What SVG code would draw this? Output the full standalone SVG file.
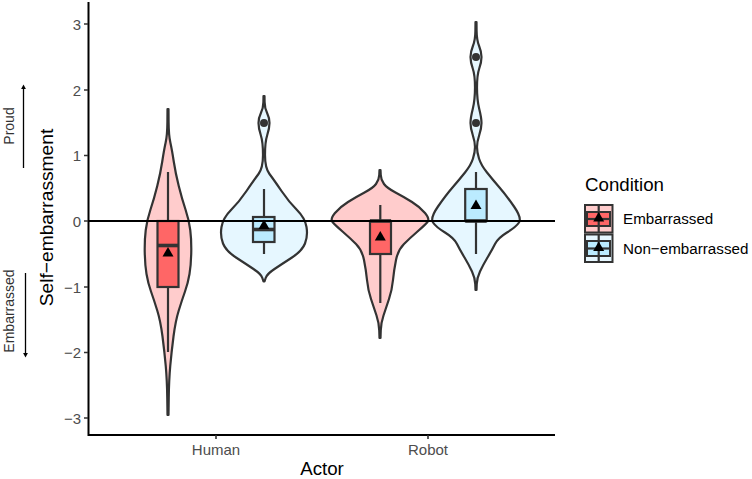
<svg xmlns="http://www.w3.org/2000/svg" xmlns:xlink="http://www.w3.org/1999/xlink" width="752" height="479" viewBox="0 0 752 479">
<style>
text{font-family:"Liberation Sans",Arial,sans-serif}
.tick{font-size:15px;fill:#4d4d4d}
.title{font-size:18.7px;fill:#000}
.leg{font-size:15.2px;fill:#000}
.ann{font-size:14px;fill:#333}
.axis{stroke:#000;stroke-width:2;fill:none}
.tk{stroke:#333;stroke-width:1.6}
.vr{fill:#ffcccc;stroke:#333;stroke-width:2.2;stroke-linejoin:round}
.vb{fill:#e6f7ff;stroke:#333;stroke-width:2.2;stroke-linejoin:round}
.br{fill:#ff6666;stroke:#333;stroke-width:2.2}
.bb{fill:#bbebff;stroke:#333;stroke-width:2.2}
.wh{stroke:#333;stroke-width:2.2;fill:none}
.med{stroke:#333;stroke-width:3.6;fill:none}
.pt{fill:#333}
.key{stroke:#333;stroke-width:2}
</style>
<defs>
<marker id="ah" markerWidth="6" markerHeight="6" refX="1" refY="3" orient="auto" markerUnits="userSpaceOnUse"><path d="M0,0.6L4.500,3L0,5.400Z" fill="#000"/></marker>
<path id="tri" d="M-5.500,4.500L0,-5L5.500,4.500Z" fill="#000"/>
<path id="h1" d="M0,109L.5,109L.6,122Q.7,135 2.35,142.5Q4,150 5.75,161.5Q7.5,173 10.75,186Q14,199 17.5,209.5Q21,220 22.25,230Q23.5,240 23.25,252.5Q23,265 21.5,274Q20,283 17,291.5Q14,300 10.75,310.5Q7.5,321 5.5,336.5Q3.5,352 2.25,366Q1,380 .75,397.5L.5,415L0,415"/>
<path id="h2" d="M0,96L.5,96L.6,102Q.7,108 3.1,113Q5.5,118 5.5,123Q5.5,128 3.25,135Q1,142 1,155Q1,168 5.5,174Q10,180 17.5,191Q25,202 33,210Q41,218 42.5,227Q44,236 41,243.5Q38,251 28,257.5Q18,264 10.5,269Q3,274 1.75,277.75L.5,281.5L0,281.5"/>
<path id="h3" d="M0,170L.5,170L.75,175Q1,180 4,184Q7,188 15.5,192.5Q24,197 32,202Q40,207 45,213Q50,219 47.5,222Q45,225 37.5,231.5Q30,238 24,244Q18,250 16,260Q14,270 13,280Q12,290 9,299Q6,308 3.5,315.5Q1,323 .75,330.5L.5,338L0,338"/>
<path id="h4" d="M0,22L.5,22L.6,31Q.7,40 3.1,46Q5.5,52 5.5,57Q5.5,62 3.25,68.5Q1,75 1,87.5Q1,100 3.25,109Q5.5,118 5.5,123Q5.5,128 3.25,135Q1,142 1,147Q1,152 3,158.5Q5,165 11,172.5Q17,180 23.5,187.5Q30,195 38,206.5Q46,218 43,222.5Q40,227 31,232.5Q22,238 19,244Q16,250 11.5,257.5Q7,265 4,271.5Q1,278 .75,284L.5,290L0,290"/>
</defs>
<rect width="752" height="479" fill="#fff"/>
<g id="violin-human-embarrassed">
<use xlink:href="#h1" href="#h1" class="vr" transform="translate(168,0)"/>
<use xlink:href="#h1" href="#h1" class="vr" transform="translate(168,0) scale(-1,1)"/>
<path class="wh" d="M168,172V352"/>
<rect class="br" x="157.500" y="221" width="21" height="66"/>
<path class="med" d="M157.500,245.500H178.500"/>
<use xlink:href="#tri" href="#tri" transform="translate(168,252)"/>
</g>
<g id="violin-human-non-embarrassed">
<use xlink:href="#h2" href="#h2" class="vb" transform="translate(264,0)"/>
<use xlink:href="#h2" href="#h2" class="vb" transform="translate(264,0) scale(-1,1)"/>
<path class="wh" d="M264,189V254"/>
<rect class="bb" x="253" y="217" width="21.500" height="25"/>
<path class="med" d="M253,229.500H274.500"/>
<circle class="pt" cx="264" cy="123" r="4"/>
<use xlink:href="#tri" href="#tri" transform="translate(264,224.500)"/>
</g>
<g id="violin-robot-embarrassed">
<use xlink:href="#h3" href="#h3" class="vr" transform="translate(380,0)"/>
<use xlink:href="#h3" href="#h3" class="vr" transform="translate(380,0) scale(-1,1)"/>
<path class="wh" d="M380.300,205V303"/>
<rect class="br" x="370" y="221" width="21" height="33"/>
<path class="med" d="M370,221H391"/>
<use xlink:href="#tri" href="#tri" transform="translate(380.300,236)"/>
</g>
<g id="violin-robot-non-embarrassed">
<use xlink:href="#h4" href="#h4" class="vb" transform="translate(476,0)"/>
<use xlink:href="#h4" href="#h4" class="vb" transform="translate(476,0) scale(-1,1)"/>
<path class="wh" d="M476,172V254"/>
<rect class="bb" x="465.200" y="189" width="21.500" height="32"/>
<path class="med" d="M465.200,221H486.700"/>
<circle class="pt" cx="476" cy="57" r="4"/>
<circle class="pt" cx="476" cy="123" r="4"/>
<use xlink:href="#tri" href="#tri" transform="translate(476,204.500)"/>
</g>
<g id="connectors">
<path class="axis" d="M88,221H555"/>
<path d="M23.500,168V88" stroke="#000" stroke-width="1.300" fill="none" marker-end="url(#ah)"/>
<path d="M25.500,273V354" stroke="#000" stroke-width="1.300" fill="none" marker-end="url(#ah)"/>
</g>
<g id="axes">
<path class="axis" d="M88.500,2V435H555"/>
<path class="tk" d="M84,24H88M84,90H88M84,155.500H88M84,221H88M84,287H88M84,352.500H88M84,418H88M216,435V439M428,435V439"/>
<g class="tick" text-anchor="end">
<text x="81" y="29.500">3</text><text x="81" y="95.500">2</text><text x="81" y="161">1</text><text x="81" y="226.500">0</text>
<text x="81" y="292.500">−1</text><text x="81" y="358">−2</text><text x="81" y="423.500">−3</text>
</g>
<text class="tick" x="216" y="455" text-anchor="middle">Human</text>
<text class="tick" x="428" y="455" text-anchor="middle">Robot</text>
<text class="title" x="322" y="475" text-anchor="middle">Actor</text>
<text class="title" transform="translate(53,217.500) rotate(-90)" text-anchor="middle" style="font-size:19.2px">Self−embarrassment</text>
<text class="ann" transform="translate(14,126) rotate(-90)" text-anchor="middle">Proud</text>
<text class="ann" transform="translate(14,311) rotate(-90)" text-anchor="middle">Embarrassed</text>
</g>
<g id="legend">
<text class="title" x="585" y="191">Condition</text>
<g id="key-embarrassed">
<rect class="key" x="585" y="205" width="27.500" height="27.500" fill="#ffcccc"/>
<rect class="key" x="587" y="212" width="23" height="14" fill="#ff6666"/>
<path class="wh" d="M598.700,205V232.500"/>
<path class="wh" d="M587,219H610"/>
<use xlink:href="#tri" href="#tri" transform="translate(598.700,217)"/>
</g>
<text class="leg" x="623" y="224">Embarrassed</text>
<g id="key-non-embarrassed">
<rect class="key" x="585" y="234.500" width="27.500" height="27.500" fill="#e6f7ff"/>
<rect class="key" x="587" y="241" width="23" height="15" fill="#bbebff"/>
<path class="wh" d="M598.700,234.500V262"/>
<path class="wh" d="M587,248.500H610"/>
<use xlink:href="#tri" href="#tri" transform="translate(598.700,246.500)"/>
</g>
<text class="leg" x="623" y="254">Non−embarrassed</text>
</g>
</svg>
